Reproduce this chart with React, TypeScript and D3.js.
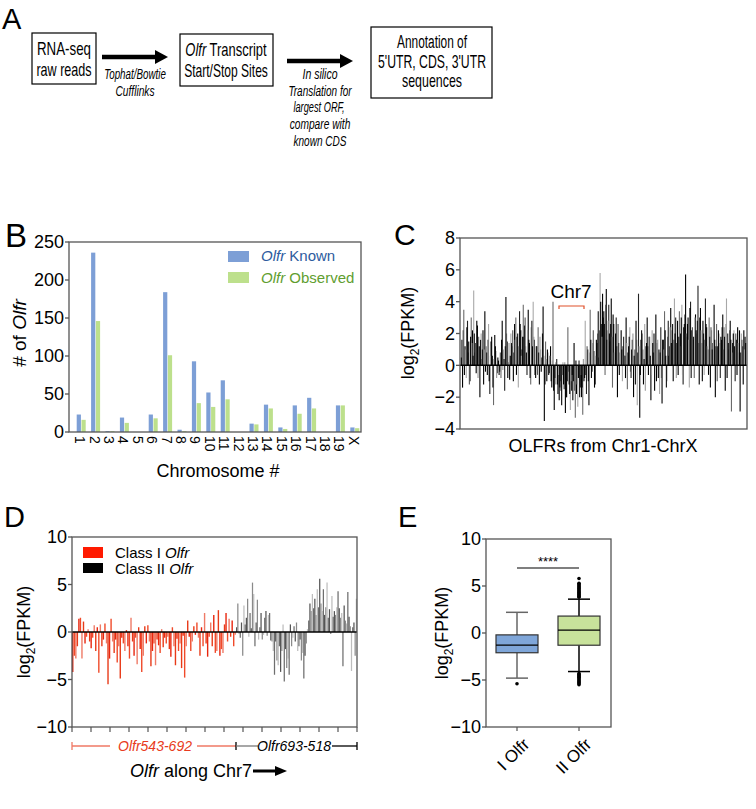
import React from 'react';
import * as d3 from 'd3';

const FONT = "'Liberation Sans', Arial, Helvetica, sans-serif";

// ---------- Panel B data ----------
const chromosomes = ['1','2','3','4','5','6','7','8','9','10','11','12','13','14','15','16','17','18','19','X'];
const olfrKnown = [23,236,1,19,0,23,184,3,93,52,68,0,11,36,6,35,45,0,35,6];
const olfrObserved = [16,146,1,12,0,18,101,1,38,33,43,0,10,31,4,24,31,0,35,5];
const bTicks = [0,50,100,150,200,250];

// ---------- Panel C data (log2 FPKM, OLFRs Chr1 -> ChrX), two interleaved read-outs ----------
const olfrExpressionA = [
  0.5,-1.4,3.5,1.2,-0.8,2.8,1.5,-1.0,3.0,2.2,
  4.7,0.8,-0.5,2.5,1.8,-2.0,2.0,1.0,-1.2,3.4,
  1.2,-0.6,2.6,-1.8,1.5,0.6,-2.5,1.9,0.9,-0.5,
  0.3,-0.4,-0.8,2.8,1.0,-1.6,4.3,1.5,0.2,-0.9,
  2.0,1.2,-1.0,2.6,3.0,1.8,-1.4,3.4,2.2,1.0,
  3.8,2.5,1.2,-0.6,3.5,1.4,-1.2,2.8,4.0,1.6,
  -0.8,1.2,2.4,-1.2,1.0,0.5,3.7,-3.5,1.5,-1.0,
  0.8,-0.5,1.2,-1.4,4.0,-2.8,-1.2,0.4,-1.8,-2.2,
  -1.0,-2.5,0.2,-1.5,-3.0,-2.0,2.4,-1.2,-2.8,-1.6,
  -2.2,1.4,-3.3,-1.8,-2.6,0.3,-1.4,-2.0,-3.1,-1.0,
  2.8,-1.8,1.0,-2.5,3.5,-0.8,1.4,0.9,-1.2,1.6,
  2.0,0.5,5.8,2.6,4.5,3.4,-0.6,4.8,2.2,3.8,
  1.5,4.2,-1.4,2.6,1.0,3.0,-2.0,1.4,0.8,2.2,
  -1.0,1.8,0.6,3.0,-1.5,1.2,2.4,-0.8,1.6,-2.0,
  1.0,2.8,-2.5,4.5,-3.3,1.6,2.0,-1.2,2.6,1.2,
  3.0,-0.6,1.8,-2.2,2.2,0.8,-1.6,3.2,1.4,-0.8,
  -1.8,2.4,-2.4,1.6,3.4,0.6,-1.0,2.8,1.2,3.6,
  2.2,-1.0,4.2,3.0,1.4,-0.6,3.4,2.0,3.8,-1.2,
  2.6,5.7,1.8,3.0,-1.4,4.0,2.2,1.6,-0.8,3.2,
  2.0,5.0,-1.2,3.6,1.4,2.8,-0.6,4.2,2.4,1.0,
  3.0,-1.4,2.2,1.4,3.8,-2.0,2.6,1.2,2.0,-0.8,
  1.6,3.2,2.4,-1.6,4.2,2.0,1.0,2.8,-2.9,1.4,
  2.2,-1.0,1.6,2.4,0.8,-2.9,2.0,1.2,2.2,1.8
];
const olfrExpressionB = [
  1.6,2.2,-0.6,1.0,2.4,0.8,-1.2,1.8,1.4,0.6,
  2.0,1.4,2.8,-0.8,1.2,1.6,0.4,2.2,1.0,-0.4,
  0.8,1.6,-1.0,0.6,1.8,-1.4,0.4,1.2,-0.8,0.5,
  -0.6,0.8,1.6,-0.3,0.4,1.2,2.0,-0.8,1.4,0.6,
  1.4,2.2,0.8,1.6,-0.6,2.0,1.2,2.6,0.6,1.8,
  1.8,3.0,0.8,2.2,1.6,-0.8,2.4,1.2,1.8,-0.6,
  1.2,-0.6,0.8,1.8,-0.4,2.0,0.6,-1.2,0.4,1.0,
  -0.6,0.6,-1.0,0.3,-1.6,-0.8,0.2,-1.2,-0.6,-1.4,
  -1.6,-0.6,-1.2,0.2,-2.0,-1.0,-0.4,-1.8,-1.0,-0.6,
  -1.0,-1.6,0.3,-1.2,-0.8,-2.0,-0.6,-1.4,0.4,-0.8,
  -0.6,1.2,-1.0,0.8,1.6,-0.4,2.2,-1.4,0.6,1.4,
  3.4,2.2,4.0,1.8,3.0,2.6,3.8,1.6,2.8,2.0,
  2.6,1.8,3.2,0.8,2.0,1.2,2.6,-0.6,1.6,1.0,
  1.2,0.6,-0.8,1.4,0.8,1.8,-0.4,1.0,2.0,0.6,
  -1.2,1.6,0.8,1.2,-0.6,2.2,1.0,0.4,-1.6,1.4,
  1.2,1.8,0.6,-0.6,1.4,2.0,0.8,-1.0,1.6,1.0,
  0.8,-0.8,1.6,1.0,2.2,-1.4,1.8,0.6,2.4,1.4,
  2.6,1.6,2.0,-0.8,2.8,1.8,1.2,3.0,-0.6,2.4,
  3.2,2.0,2.6,1.6,3.6,-0.8,2.4,1.8,3.0,2.2,
  2.8,1.4,3.0,2.2,-1.0,2.0,1.6,2.6,1.2,-0.6,
  1.8,2.4,1.0,2.8,1.6,1.2,-1.0,2.2,1.4,1.8,
  2.4,1.0,1.8,2.6,-0.8,1.4,2.2,1.6,0.8,2.0,
  1.2,2.0,-0.6,1.4,2.2,0.8,1.6,-1.2,1.0,1.4
];
const cTicks = [-4,-2,0,2,4,6,8];

// ---------- Panel D data (Chr7) ----------
const classIValues = [
  -4.2,-2.5,-2.8,-1.5,1.4,1.5,-2.8,1.1,-1.2,
  -0.5,0.3,-1.0,-1.7,-0.6,0.7,-2.0,0.5,-4.3,0.8,-1.5,-0.8,0.9,-1.2,
  -5.5,-2.8,1.4,-1.0,-2.2,-0.8,-3.2,-1.5,-4.9,-0.6,-1.2,-2.0,0.2,
  -1.5,-2.8,1.5,-1.0,-2.5,-0.6,-3.4,0.5,-1.8,-4.2,-2.5,0.6,-1.2,
  0.7,-1.0,-3.6,-2.0,-1.2,-3.5,-0.8,-1.4,-2.2,0.3,-1.6,-0.6,
  -1.2,-0.5,-1.8,-2.6,0.5,-1.5,-3.5,-0.7,-2.0,-1.2,-3.8,-0.4,
  -4.8,-1.5,1.2,-0.5,-2.0,-1.0,0.6,-0.3,1.0,
  -0.6,-2.5,0.5,-1.5,2.0,-1.2,-2.6,-0.5,1.0,
  -1.5,1.8,-2.2,-2.0,2.3,-2.5,-1.8,-2.2,0.8,2.0,-1.0,1.4,-0.5,1.2,-1.5,-0.3
];
const classIIValues = [
  0.5,3.0,-0.2,-0.6,1.0,-2.5,2.8,0.8,1.5,3.5,-0.5,2.0,0.4,5.2,4.0,
  -1.5,1.0,3.4,-0.8,0.5,2.0,-0.8,-0.3,1.5,2.2,-0.4,1.8,2.0,-0.9,-1.0,
  -2.0,-4.5,-1.0,-3.0,-3.5,-1.5,-4.2,-2.0,0.8,-5.2,-1.8,-3.8,-2.8,-4.5,0.8,-1.5,-0.6,
  0.6,-1.0,1.0,-2.0,-1.5,-0.8,-3.0,-2.2,-4.9,-2.5,-1.2,0.3,
  1.2,3.0,2.2,4.0,2.5,3.5,1.8,4.5,2.6,5.6,3.0,2.2,4.5,1.8,2.6,5.2,1.5,2.4,
  -0.2,3.8,1.6,2.2,1.8,2.6,4.3,2.5,1.5,2.0,-3.6,2.8,1.2,0.9,4.2,1.6,0.6,-4.1,0.5,1.0,-2.5,3.5
];
const dTicks = [-10,-5,0,5,10];
const dAxisTicks = d3.range(0, 16);

// ---------- Panel E data ----------
const boxCategories = ['I', 'II'];
const boxQ1 = [-2.1, -1.3];
const boxMedian = [-1.3, 0.3];
const boxQ3 = [-0.2, 1.8];
const whiskerLow = [-4.8, -4.1];
const whiskerHigh = [2.2, 3.6];
const outliersI = [-5.4];
const outliersII = [3.8,3.9,4.0,4.1,4.2,4.3,4.4,4.5,4.6,4.7,4.8,4.9,5.0,5.1,5.2,5.3,5.8,
  -4.3,-4.4,-4.5,-4.6,-4.7,-4.8,-4.9,-5.0,-5.1,-5.2,-5.3,-5.4,-5.5];
const eTicks = [-10,-5,0,5,10];

const AXIS = '#555';

function Frame({ x0, x1, y0, y1 }: { x0: number; x1: number; y0: number; y1: number }) {
  return <rect x={x0} y={y0} width={x1 - x0} height={y1 - y0} fill="none" stroke={AXIS} strokeWidth={1.3} />;
}

function YTicks({ scale, ticks, x }: { scale: any; ticks: number[]; x: number }) {
  return (
    <g>
      {ticks.map((t) => (
        <g key={t}>
          <line x1={x - 4} x2={x} y1={scale(t)} y2={scale(t)} stroke={AXIS} strokeWidth={1.3} />
          <text x={x - 5} y={scale(t)} dy="0.35em" textAnchor="end" fontSize={18}>
            {String(t).replace('-', '\u2212')}
          </text>
        </g>
      ))}
    </g>
  );
}

function Log2Label({ cx, cy }: { cx: number; cy: number }) {
  return (
    <text transform={`translate(${cx},${cy}) rotate(-90)`} textAnchor="middle" fontSize={18}>
      log<tspan fontSize={12} dy={5}>2</tspan><tspan dy={-5}>(FPKM)</tspan>
    </text>
  );
}

function Arrow({ x1, x2, y, w, head, hh }: { x1: number; x2: number; y: number; w: number; head: number; hh: number }) {
  return (
    <g>
      <line x1={x1} x2={x2 - head + 1} y1={y} y2={y} stroke="#000" strokeWidth={w} />
      <path d={`M${x2 - head},${y - hh} L${x2},${y} L${x2 - head},${y + hh} Z`} fill="#000" />
    </g>
  );
}

// condensed text: horizontally scaled about its centre
function T({ x, y, sx, size, italic, children }: any) {
  return (
    <g transform={`translate(${x},${y}) scale(${sx},1)`}>
      <text x={0} y={0} textAnchor="middle" fontSize={size} fontStyle={italic ? 'italic' : 'normal'}>
        {children}
      </text>
    </g>
  );
}

export default function App() {
  // ----- Panel B -----
  const bx = d3.scaleBand().domain(chromosomes).range([74, 362]).padding(0);
  const by = d3.scaleLinear().domain([0, 250]).range([432, 242]);
  const bw = bx.bandwidth();
  const bSeries = d3.scaleBand().domain(['known', 'observed']).range([bw / 2 - 4.5, bw / 2 + 4.5]).paddingInner(0.12);

  // ----- Panel C -----
  const cx = d3.scaleBand().domain(d3.range(olfrExpressionA.length).map(String)).range([461, 746]);
  const cy = d3.scaleLinear().domain([-4, 8]).range([429, 238]);
  const cColorsA = ['#000', '#000', '#6a6a6a', '#000', '#a8a8a8', '#222'];
  const cColorsB = ['#111', '#555', '#000', '#999', '#000'];

  // ----- Panel D -----
  const dxI = d3.scaleBand().domain(d3.range(classIValues.length).map(String)).range([72, 236]);
  const dxII = d3.scaleBand().domain(d3.range(classIIValues.length).map(String)).range([236, 357]);
  const dy = d3.scaleLinear().domain([-10, 10]).range([727, 537]);
  const dTickX = d3.scaleLinear().domain([0, 15]).range([72, 357]);
  const redColors = ['#e8260e', '#f04a2a', '#ef7a66', '#e83a18'];
  const grayColors = ['#555', '#8a8a8a', '#bdbdbd', '#6e6e6e'];

  // ----- Panel E -----
  const ex = d3.scalePoint().domain(boxCategories).range([517, 579]);
  const ey = d3.scaleLinear().domain([-10, 10]).range([727, 539]);
  const boxFill = ['#7fa6d9', '#c8e29b'];
  const whiskerColor = ['#666', '#000'];
  const outliers = [outliersI, outliersII];

  return (
    <svg width={756} height={809} style={{ position: 'absolute', left: 0, top: 0, background: '#fff' }}
      fontFamily={FONT}>
      <rect x={0} y={0} width={756} height={809} fill="#fff" />

      {/* ================= Panel A ================= */}
      <text x={2} y={29} fontSize={29}>A</text>
      <rect x={32} y={33} width={64} height={51} fill="none" stroke="#000" strokeWidth={1.2} />
      <T x={64} y={55} sx={0.74} size={18}>RNA-seq</T>
      <T x={64} y={76} sx={0.70} size={18}>raw reads</T>
      <Arrow x1={102} x2={168} y={57} w={4.5} head={13} hh={7} />
      <T x={135} y={79} sx={0.70} size={14} italic>Tophat/Bowtie</T>
      <T x={135} y={96} sx={0.73} size={14} italic>Cufflinks</T>

      <rect x={180} y={34} width={93} height={52} fill="none" stroke="#000" strokeWidth={1.2} />
      <T x={226} y={56} sx={0.72} size={18}><tspan fontStyle="italic">Olfr</tspan> Transcript</T>
      <T x={226} y={77} sx={0.67} size={18}>Start/Stop Sites</T>
      <Arrow x1={287} x2={353} y={61} w={4.5} head={13} hh={7} />
      <T x={320} y={79} sx={0.75} size={14} italic>In silico</T>
      <T x={320} y={96} sx={0.715} size={14} italic>Translation for</T>
      <T x={319} y={112} sx={0.66} size={14} italic>largest ORF,</T>
      <T x={320} y={129} sx={0.73} size={14} italic>compare with</T>
      <T x={320} y={146} sx={0.72} size={14} italic>known  CDS</T>

      <rect x={371} y={27} width={121} height={71} fill="none" stroke="#000" strokeWidth={1.2} />
      <T x={432} y={48} sx={0.66} size={18}>Annotation of</T>
      <T x={432} y={68} sx={0.68} size={18}>5'UTR, CDS, 3'UTR</T>
      <T x={432} y={87} sx={0.69} size={18}>sequences</T>

      {/* ================= Panel B ================= */}
      <text x={5} y={247} fontSize={33}>B</text>
      {chromosomes.map((c, i) => {
        const x0 = (bx(c) as number);
        return (
          <g key={c}>
            <rect x={x0 + (bSeries('known') as number)} width={bSeries.bandwidth()}
              y={by(olfrKnown[i])} height={by(0) - by(olfrKnown[i])} fill="#7d9fd6" />
            <rect x={x0 + (bSeries('observed') as number)} width={bSeries.bandwidth()}
              y={by(olfrObserved[i])} height={by(0) - by(olfrObserved[i])} fill="#bde08c" />
            <text transform={`translate(${x0 + bw / 2 - 1},436) rotate(90)`} dy="0.35em" fontSize={14}>{c}</text>
          </g>
        );
      })}
      <Frame x0={69} x1={361} y0={242} y1={432} />
      <YTicks scale={by} ticks={bTicks} x={69} />
      <text transform="translate(26,333) rotate(-90)" textAnchor="middle" fontSize={19}>
        # of <tspan fontStyle="italic">Olfr</tspan>
      </text>
      <text x={218} y={477} textAnchor="middle" fontSize={18}>Chromosome #</text>
      <rect x={228} y={251} width={21} height={11} fill="#7d9fd6" />
      <text x={261} y={261} fontSize={15} fill="#2d5b9e"><tspan fontStyle="italic">Olfr</tspan> Known</text>
      <rect x={228} y={272} width={21} height={11} fill="#bde08c" />
      <text x={261} y={283} fontSize={15} fill="#5f9e2f"><tspan fontStyle="italic">Olfr</tspan> Observed</text>

      {/* ================= Panel C ================= */}
      <text x={394} y={245} fontSize={30}>C</text>
      {olfrExpressionA.map((v, i) => {
        const x = (cx(String(i)) as number) + cx.bandwidth() * 0.25;
        return <line key={'a' + i} x1={x} x2={x} y1={cy(0)} y2={cy(v)} stroke={cColorsA[i % cColorsA.length]} strokeWidth={1.1} />;
      })}
      {olfrExpressionB.map((v, i) => {
        const x = (cx(String(i)) as number) + cx.bandwidth() * 0.75;
        return <line key={'b' + i} x1={x} x2={x} y1={cy(0)} y2={cy(v)} stroke={cColorsB[i % cColorsB.length]} strokeWidth={1.1} />;
      })}
      <line x1={460} x2={747} y1={cy(0)} y2={cy(0)} stroke="#000" strokeWidth={1.5} />
      <Frame x0={460} x1={747} y0={238} y1={429} />
      <YTicks scale={cy} ticks={cTicks} x={460} />
      <Log2Label cx={414} cy={333} />
      <text x={603} y={452} textAnchor="middle" fontSize={18}>OLFRs from Chr1-ChrX</text>
      <text x={571} y={298} textAnchor="middle" fontSize={19}>Chr7</text>
      <path d="M559,309 L559,306 L584,306 L584,309" fill="none" stroke="#e0502a" strokeWidth={1.2} />

      {/* ================= Panel D ================= */}
      <text x={4} y={527} fontSize={29}>D</text>
      {classIValues.map((v, i) => {
        const x = (dxI(String(i)) as number) + dxI.bandwidth() / 2;
        return <line key={'r' + i} x1={x} x2={x} y1={dy(0)} y2={dy(v)} stroke={redColors[i % redColors.length]} strokeWidth={1.4} />;
      })}
      {classIIValues.map((v, i) => {
        const x = (dxII(String(i)) as number) + dxII.bandwidth() / 2;
        return <line key={'g' + i} x1={x} x2={x} y1={dy(0)} y2={dy(v)} stroke={grayColors[i % grayColors.length]} strokeWidth={1.25} />;
      })}
      <line x1={72} x2={357} y1={dy(0)} y2={dy(0)} stroke="#000" strokeWidth={1.3} />
      <Frame x0={72} x1={357} y0={537} y1={727} />
      {dAxisTicks.map((t) => (
        <line key={t} x1={dTickX(t)} x2={dTickX(t)} y1={727} y2={732} stroke={AXIS} strokeWidth={1.2} />
      ))}
      <YTicks scale={dy} ticks={dTicks} x={72} />
      <Log2Label cx={30} cy={632} />
      <rect x={83} y={547} width={20} height={11} fill="#ff1a00" />
      <text x={115} y={558} fontSize={15}>Class I <tspan fontStyle="italic">Olfr</tspan></text>
      <rect x={83} y={563} width={20} height={10} fill="#000" />
      <text x={115} y={574} fontSize={15}>Class II <tspan fontStyle="italic">Olfr</tspan></text>
      {/* brackets */}
      <path d="M72,742 L72,750 M72,746 L110,746 M197,746 L236,746" stroke="#f07a66" strokeWidth={1.3} fill="none" />
      <text x={155} y={751} textAnchor="middle" fontSize={14} fontStyle="italic" fill="#e83a20">Olfr543-692</text>
      <path d="M236,742 L236,750 M357,742 L357,750" stroke="#000" strokeWidth={1.3} fill="none" />
      <line x1={236} x2={258} y1={746} y2={746} stroke="#777" strokeWidth={1.3} />
      <line x1={332} x2={357} y1={746} y2={746} stroke="#000" strokeWidth={1.3} />
      <text x={294} y={751} textAnchor="middle" fontSize={14} fontStyle="italic">Olfr693-518</text>
      <text x={130} y={777} fontSize={18}><tspan fontStyle="italic">Olfr</tspan> along Chr7</text>
      <Arrow x1={253} x2={287} y={771} w={3} head={12} hh={5} />

      {/* ================= Panel E ================= */}
      <text x={398} y={527} fontSize={29}>E</text>
      {boxCategories.map((c, i) => {
        const x = ex(c) as number;
        const half = 21;
        const cap = 11;
        return (
          <g key={c}>
            <line x1={x} x2={x} y1={ey(whiskerHigh[i])} y2={ey(boxQ3[i])} stroke={whiskerColor[i]} strokeWidth={1.5} />
            <line x1={x} x2={x} y1={ey(boxQ1[i])} y2={ey(whiskerLow[i])} stroke={whiskerColor[i]} strokeWidth={1.5} />
            <line x1={x - cap} x2={x + cap} y1={ey(whiskerHigh[i])} y2={ey(whiskerHigh[i])} stroke={whiskerColor[i]} strokeWidth={1.5} />
            <line x1={x - cap} x2={x + cap} y1={ey(whiskerLow[i])} y2={ey(whiskerLow[i])} stroke={whiskerColor[i]} strokeWidth={1.5} />
            <rect x={x - half} width={half * 2} y={ey(boxQ3[i])} height={ey(boxQ1[i]) - ey(boxQ3[i])}
              fill={boxFill[i]} stroke="#333" strokeWidth={1.2} />
            <line x1={x - half} x2={x + half} y1={ey(boxMedian[i])} y2={ey(boxMedian[i])} stroke="#000" strokeWidth={1.2} />
            {outliers[i].map((o, k) => (
              <circle key={k} cx={x} cy={ey(o)} r={1.8} fill="#000" />
            ))}
            <line x1={x} x2={x} y1={727} y2={731} stroke={AXIS} strokeWidth={1.2} />
            <text transform={`translate(${x + 5},${737}) rotate(-45)`} textAnchor="end" dy="0.7em" fontSize={17}>
              {c} Olfr
            </text>
          </g>
        );
      })}
      <Frame x0={486} x1={611} y0={539} y1={727} />
      <YTicks scale={ey} ticks={eTicks} x={486} />
      <Log2Label cx={448} cy={633} />
      <line x1={517} x2={579} y1={568} y2={568} stroke="#000" strokeWidth={1.2} />
      <text x={548} y={566} textAnchor="middle" fontSize={13}>****</text>
    </svg>
  );
}
